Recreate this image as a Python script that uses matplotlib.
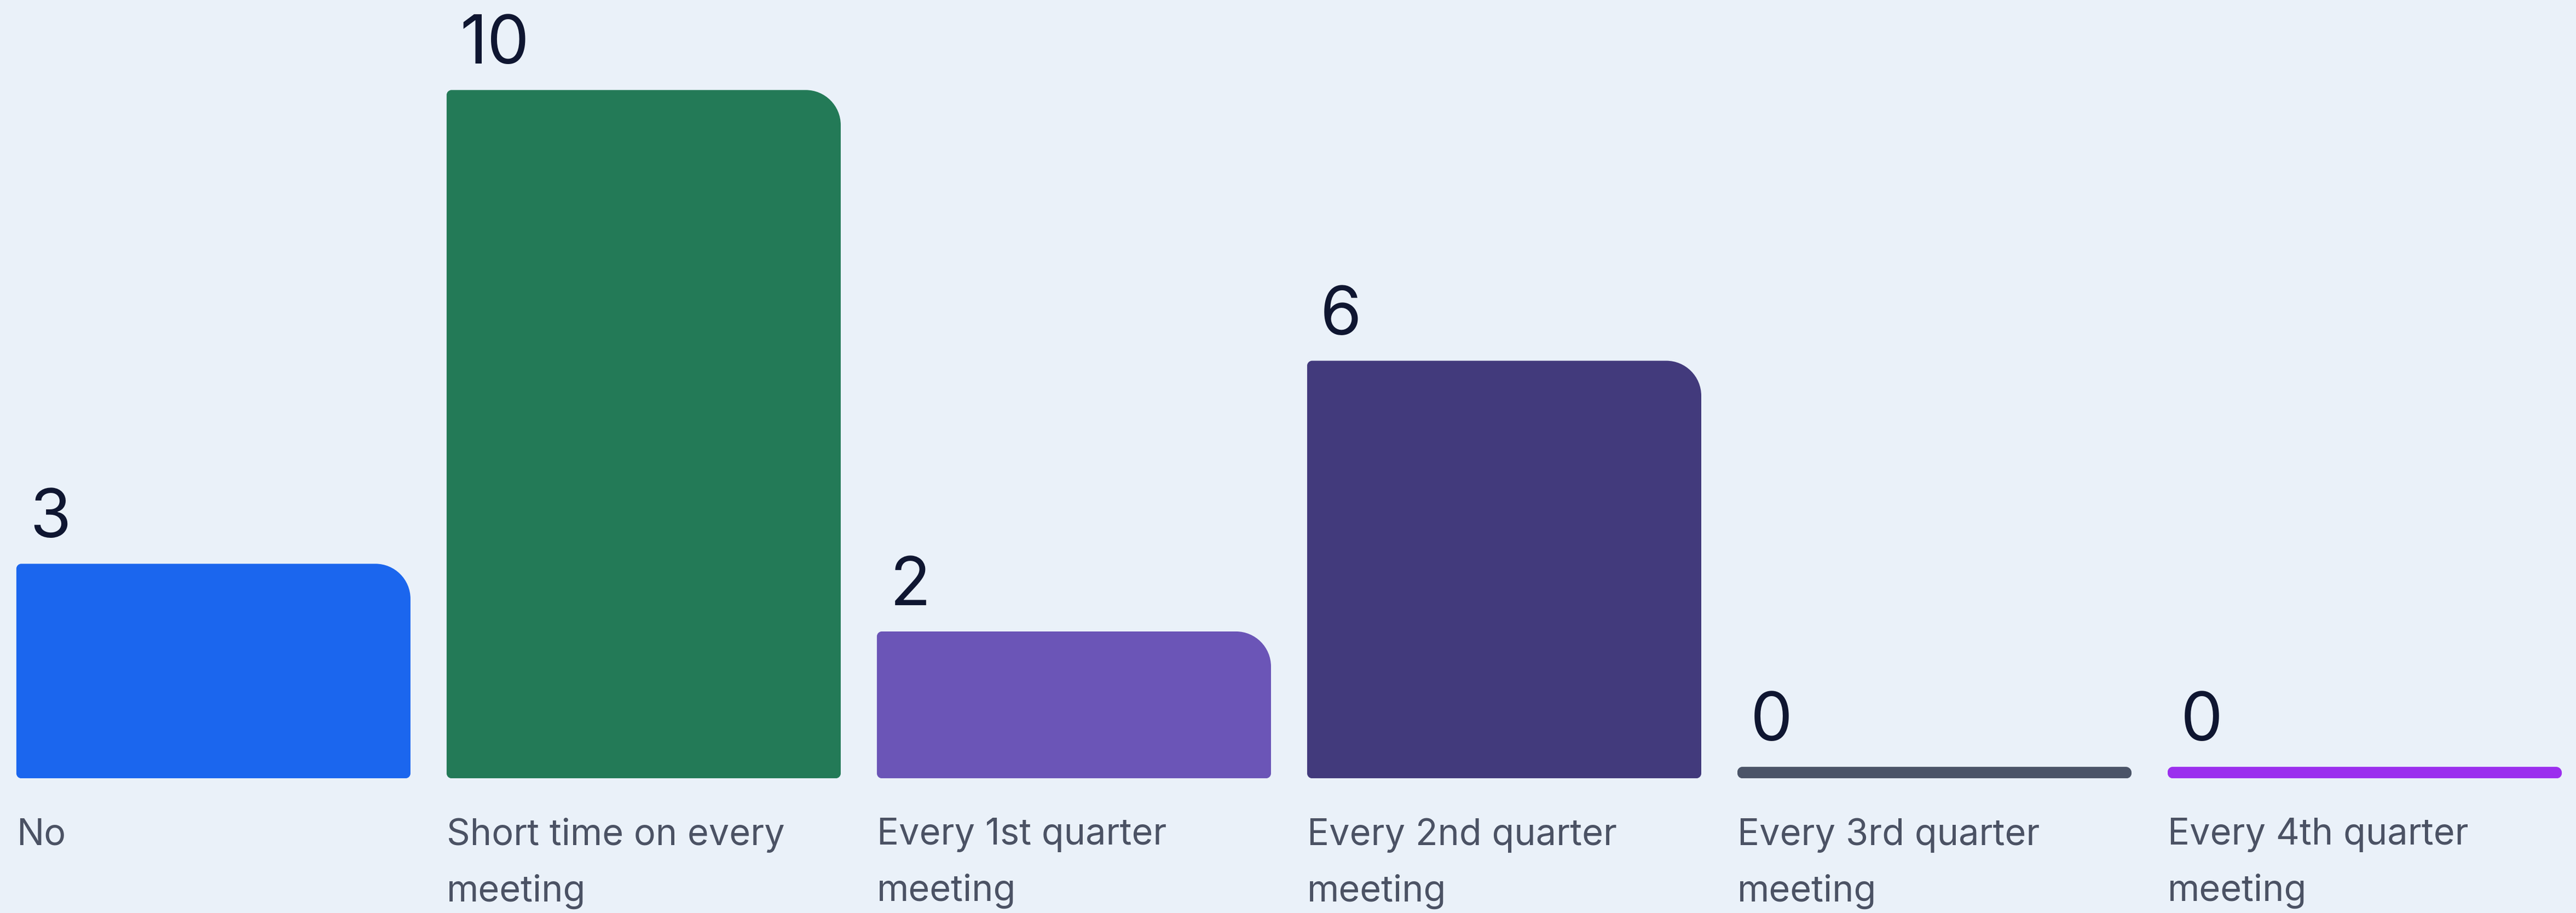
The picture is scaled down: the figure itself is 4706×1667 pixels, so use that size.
import matplotlib
matplotlib.use("Agg")
import matplotlib.pyplot as plt
import numpy as np
from matplotlib.path import Path
from matplotlib.patches import PathPatch

# data
categories = ["No", "Short time on every\nmeeting", "Every 1st quarter\nmeeting",
              "Every 2nd quarter\nmeeting", "Every 3rd quarter\nmeeting",
              "Every 4th quarter\nmeeting"]
values = [3, 10, 2, 6, 0, 0]
colors = ["#1b66ee", "#237a57", "#6b55b7", "#423a7c", "#4b5468", "#9b2fee"]

bg = "#eaf1f9"
plt.rcParams['font.family'] = ['Inter', 'DejaVu Sans']

fig = plt.figure(figsize=(47.06, 16.67), dpi=100, facecolor=bg)
ax = fig.add_axes([0, 0.1475, 1, 0.8525])
ax.set_facecolor(bg)
ax.set_xlim(-0.496, 5.491)
ax.set_ylim(0, 11.5)
ax.axis('off')

bar_w = 0.916
min_h = 0.17  # zero bars still show as a thin pill


def rounded_path(x0, x1, y0, y1, radii):
    # radii in pixels: (bottom-left, bottom-right, top-right, top-left)
    sx = ax.transData.transform((1, 0))[0] - ax.transData.transform((0, 0))[0]
    sy = ax.transData.transform((0, 1))[1] - ax.transData.transform((0, 0))[1]
    wpx = (x1 - x0) * sx
    hpx = (y1 - y0) * sy
    lim = min(wpx, hpx) / 2
    r = [min(v, lim) for v in radii]
    k = 0.5523
    bl, br, tr, tl = r
    verts = [(x0 + bl / sx, y0)]
    codes = [Path.MOVETO]
    # bottom edge -> bottom right corner
    verts += [(x1 - br / sx, y0), (x1 - br / sx * (1 - k), y0), (x1, y0 + br / sy * (1 - k)), (x1, y0 + br / sy)]
    codes += [Path.LINETO, Path.CURVE4, Path.CURVE4, Path.CURVE4]
    # right edge -> top right
    verts += [(x1, y1 - tr / sy), (x1, y1 - tr / sy * (1 - k)), (x1 - tr / sx * (1 - k), y1), (x1 - tr / sx, y1)]
    codes += [Path.LINETO, Path.CURVE4, Path.CURVE4, Path.CURVE4]
    # top edge -> top left
    verts += [(x0 + tl / sx, y1), (x0 + tl / sx * (1 - k), y1), (x0, y1 - tl / sy * (1 - k)), (x0, y1 - tl / sy)]
    codes += [Path.LINETO, Path.CURVE4, Path.CURVE4, Path.CURVE4]
    # left edge -> bottom left
    verts += [(x0, y0 + bl / sy), (x0, y0 + bl / sy * (1 - k)), (x0 + bl / sx * (1 - k), y0), (x0 + bl / sx, y0)]
    codes += [Path.LINETO, Path.CURVE4, Path.CURVE4, Path.CURVE4]
    verts.append((0, 0))
    codes.append(Path.CLOSEPOLY)
    return Path(verts, codes)


for i, (v, c, lab) in enumerate(zip(values, colors, categories)):
    x0 = i - bar_w / 2
    x1 = i + bar_w / 2
    top = v + min_h
    path = rounded_path(x0, x1, 0, top, (9, 9, 64, 9))
    ax.add_patch(PathPatch(path, facecolor=c, edgecolor='none'))
    ax.annotate(str(v), xy=(x0, top), xytext=(24, 48), textcoords='offset pixels',
                fontsize=88, color="#0f1631", ha='left', va='baseline')
    ax.annotate(lab, xy=(x0, 0), xytext=(0, -72), textcoords='offset pixels',
                fontsize=48, color="#4b5264", ha='left', va='top', linespacing=1.78)

fig.savefig("out.png", dpi=100, facecolor=bg)
